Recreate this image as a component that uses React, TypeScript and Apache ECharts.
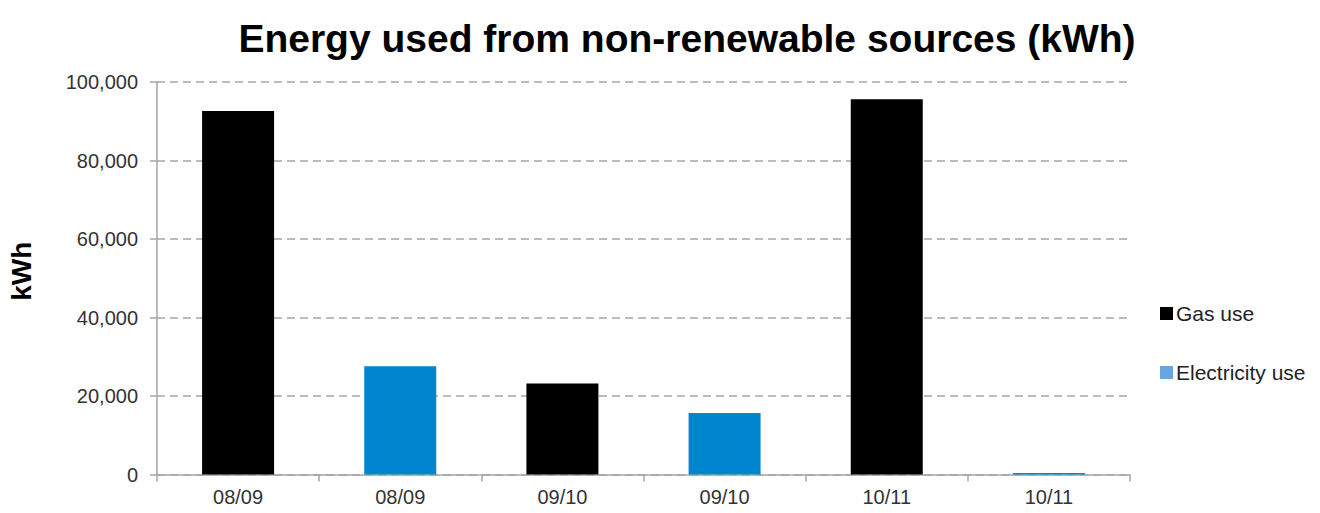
import React, { useEffect, useRef } from "react";
import * as echarts from "echarts";

// Financial years, each shown once for gas and once for electricity
const categories = ["08/09", "08/09", "09/10", "09/10", "10/11", "10/11"];
const gasUse = [92600, null, 23200, null, 95600, null];
const electricityUse = [null, 27600, null, 15700, null, 400];
const yTicks = [0, 20000, 40000, 60000, 80000, 100000];

const FONT = "'Liberation Sans', Arial, Helvetica, sans-serif";

export default function App() {
  const ref = useRef<HTMLDivElement>(null);

  useEffect(() => {
    document.body.style.margin = "0";
    const chart = echarts.init(ref.current!, null, { renderer: "svg" });
    chart.setOption({
      animation: false,
      backgroundColor: "#ffffff",
      title: {
        text: "Energy used from non-renewable sources (kWh)",
        left: 682,
        textAlign: "center",
        top: 14,
        textStyle: { fontFamily: FONT, fontSize: 39, fontWeight: "bold", color: "#000" },
      },
      legend: {
        orient: "vertical",
        left: 1160,
        top: 303,
        padding: 0,
        itemGap: 38,
        itemWidth: 13,
        itemHeight: 13,
        icon: "rect",
        textStyle: { fontFamily: FONT, fontSize: 21, color: "#222", padding: [0, 0, 0, -2] },
        data: [
          { name: "Gas use", itemStyle: { color: "#000000" } },
          { name: "Electricity use", itemStyle: { color: "#6aa6de" } },
        ],
      },
      grid: {
        left: 157,
        right: 190,
        top: 82,
        bottom: 38.5,
        containLabel: false,
        outerBoundsMode: "none",
      },
      xAxis: {
        type: "category",
        data: categories,
        axisLine: { lineStyle: { color: "#a6a6a6", width: 1.5 } },
        axisTick: { show: true, length: 7, lineStyle: { color: "#a6a6a6", width: 1.5 } },
        axisLabel: { fontFamily: FONT, fontSize: 20, color: "#333", margin: 12 },
      },
      yAxis: {
        type: "value",
        min: yTicks[0],
        max: yTicks[yTicks.length - 1],
        interval: 20000,
        name: "kWh",
        nameLocation: "middle",
        nameGap: 122,
        nameRotate: 90,
        nameTextStyle: {
          fontFamily: FONT,
          fontSize: 28,
          fontWeight: "bold",
          color: "#000",
          padding: [0, 0, 0, 14],
        },
        axisLine: { show: true, lineStyle: { color: "#a6a6a6", width: 1.5 } },
        axisTick: { show: true, length: 7, lineStyle: { color: "#a6a6a6", width: 1.5 } },
        axisLabel: {
          fontFamily: FONT,
          fontSize: 20,
          color: "#333",
          margin: 19,
          formatter: (v: number) => v.toLocaleString("en-US"),
        },
        splitLine: {
          show: true,
          lineStyle: { color: "#a6a6a6", width: 1.5, type: [8, 5] },
        },
      },
      series: [
        {
          name: "Gas use",
          type: "bar",
          data: gasUse,
          barWidth: 72,
          barGap: "-100%",
          itemStyle: { color: "#000000" },
        },
        {
          name: "Electricity use",
          type: "bar",
          data: electricityUse,
          barWidth: 72,
          barGap: "-100%",
          itemStyle: { color: "#0085ce" },
        },
      ],
    });
    return () => chart.dispose();
  }, []);

  return <div ref={ref} style={{ width: 1320, height: 513 }} />;
}
